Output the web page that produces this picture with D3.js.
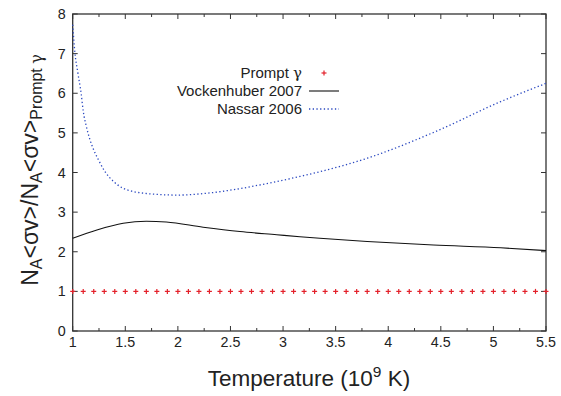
<html><head>
<script src="https://d3js.org/d3.v7.min.js"></script>
<style>
  body { margin: 0; background: #fff; }
  text { font-family: "Liberation Sans", Arial, sans-serif; fill: #222; }
  .greek { font-family: "DejaVu Serif", serif; }
</style>
</head>
<body>
<script>
  // data
  var xTicks = [1, 1.5, 2, 2.5, 3, 3.5, 4, 4.5, 5, 5.5];
  var xMinor = [1.25, 1.75, 2.25, 2.75, 3.25, 3.75, 4.25, 4.75, 5.25];
  var yTicks = [0, 1, 2, 3, 4, 5, 6, 7, 8];

  var promptT = [1.0, 1.1, 1.2, 1.3, 1.4, 1.5, 1.6, 1.7, 1.8, 1.9, 2.0, 2.1, 2.2, 2.3, 2.4, 2.5,
                 2.6, 2.7, 2.8, 2.9, 3.0, 3.1, 3.2, 3.3, 3.4, 3.5, 3.6, 3.7, 3.8, 3.9, 4.0, 4.1,
                 4.2, 4.3, 4.4, 4.5, 4.6, 4.7, 4.8, 4.9, 5.0, 5.1, 5.2, 5.3, 5.4, 5.5];
  var promptV = [1, 1, 1, 1, 1, 1, 1, 1, 1, 1, 1, 1, 1, 1, 1, 1, 1, 1, 1, 1, 1, 1, 1,
                 1, 1, 1, 1, 1, 1, 1, 1, 1, 1, 1, 1, 1, 1, 1, 1, 1, 1, 1, 1, 1, 1, 1];

  var vockT = [1.0, 1.23, 1.48, 1.7, 1.89, 2.24, 2.59, 2.94, 3.16, 3.35, 3.8, 4.43, 5.07, 5.5];
  var vockV = [2.34, 2.55, 2.72, 2.77, 2.75, 2.62, 2.51, 2.43, 2.38, 2.34, 2.26, 2.17, 2.10, 2.03];

  var nassarT = [1.0, 1.02, 1.05, 1.08, 1.1, 1.13, 1.165, 1.2, 1.245, 1.3, 1.39, 1.48, 1.56, 1.7,
                 2.0, 2.25, 2.56, 2.88, 3.16, 3.35, 3.8, 4.43, 5.07, 5.5];
  var nassarV = [7.73, 7.05, 6.5, 6.0, 5.55, 5.16, 4.82, 4.57, 4.32, 4.05, 3.77, 3.60, 3.53, 3.47,
                 3.43, 3.47, 3.58, 3.74, 3.90, 4.02, 4.36, 5.01, 5.79, 6.25];

  let width = 561, height = 396;
  let margin = { top: 14, right: 15, bottom: 65, left: 72.7 };
  let chartWidth = width - margin.left - margin.right;
  let chartHeight = height - margin.top - margin.bottom;

  let svg = d3.select("body").append("svg").attr("width", width).attr("height", height);
  let chart = svg.append("g").attr("transform", "translate(" + margin.left + "," + margin.top + ")");

  let xScale = d3.scaleLinear().domain([1, 5.5]).range([0, chartWidth]);
  let yScale = d3.scaleLinear().domain([0, 8]).range([chartHeight, 0]);

  let axisColor = "#333";

  // ticks (inward, mirrored on top and right)
  xTicks.concat(xMinor).forEach(function(t) {
    let len = xMinor.indexOf(t) >= 0 ? 3 : 5;
    chart.append("line").attr("x1", xScale(t)).attr("x2", xScale(t)).attr("y1", chartHeight).attr("y2", chartHeight - len).attr("stroke", axisColor);
    chart.append("line").attr("x1", xScale(t)).attr("x2", xScale(t)).attr("y1", 0).attr("y2", len).attr("stroke", axisColor);
  });
  yTicks.forEach(function(t) {
    chart.append("line").attr("x1", 0).attr("x2", 5).attr("y1", yScale(t)).attr("y2", yScale(t)).attr("stroke", axisColor);
    chart.append("line").attr("x1", chartWidth).attr("x2", chartWidth - 5).attr("y1", yScale(t)).attr("y2", yScale(t)).attr("stroke", axisColor);
  });

  chart.append("rect").attr("x", 0).attr("y", 0).attr("width", chartWidth).attr("height", chartHeight)
    .attr("fill", "none").attr("stroke", axisColor).attr("stroke-width", 1.3);

  // tick labels
  xTicks.forEach(function(t) {
    chart.append("text").attr("x", xScale(t)).attr("y", chartHeight + 15.5).attr("text-anchor", "middle")
      .attr("font-size", 14.3).text(t);
  });
  yTicks.forEach(function(t) {
    chart.append("text").attr("x", -7).attr("y", yScale(t) + 5).attr("text-anchor", "end")
      .attr("font-size", 14.3).text(t);
  });

  // curves
  let nassar = nassarT.map(function(t, i) { return [t, nassarV[i]]; });
  let vock = vockT.map(function(t, i) { return [t, vockV[i]]; });

  chart.append("path").datum(nassar)
    .attr("d", d3.line().x(d => xScale(d[0])).y(d => yScale(d[1])).curve(d3.curveMonotoneX))
    .attr("fill", "none").attr("stroke", "#2a48c0").attr("stroke-width", 1.3).attr("stroke-dasharray", "1.3,2.4");

  chart.append("path").datum(vock)
    .attr("d", d3.line().x(d => xScale(d[0])).y(d => yScale(d[1])).curve(d3.curveMonotoneX))
    .attr("fill", "none").attr("stroke", "#111").attr("stroke-width", 1.1);

  let plus = function(g, cx, cy) {
    g.append("line").attr("x1", cx - 2.5).attr("x2", cx + 2.5).attr("y1", cy).attr("y2", cy).attr("stroke", "#e3202a").attr("stroke-width", 1.2);
    g.append("line").attr("x1", cx).attr("x2", cx).attr("y1", cy - 2.5).attr("y2", cy + 2.5).attr("stroke", "#e3202a").attr("stroke-width", 1.2);
  };
  promptT.forEach(function(t, i) { plus(chart, xScale(t), yScale(promptV[i])); });

  // legend
  let leg = svg.append("g");
  let lp = leg.append("text").attr("x", 302).attr("y", 77.5).attr("text-anchor", "end").attr("font-size", 15);
  lp.append("tspan").text("Prompt ");
  lp.append("tspan").attr("class", "greek").text("\u03b3");
  plus(leg, 324, 73);
  leg.append("text").attr("x", 302).attr("y", 95.5).attr("text-anchor", "end").attr("font-size", 15).text("Vockenhuber 2007");
  leg.append("line").attr("x1", 309).attr("x2", 339).attr("y1", 91).attr("y2", 91).attr("stroke", "#111").attr("stroke-width", 1.1);
  leg.append("text").attr("x", 302).attr("y", 113.5).attr("text-anchor", "end").attr("font-size", 15).text("Nassar 2006");
  leg.append("line").attr("x1", 309).attr("x2", 339).attr("y1", 109).attr("y2", 109).attr("stroke", "#2a48c0")
    .attr("stroke-width", 1.3).attr("stroke-dasharray", "1.3,2.4");

  // axis titles
  let xt = svg.append("text").attr("x", 309).attr("y", 386).attr("text-anchor", "middle").attr("font-size", 22.5);
  xt.append("tspan").text("Temperature (10");
  xt.append("tspan").attr("dy", -9).attr("font-size", 15.5).text("9");
  xt.append("tspan").attr("dy", 9).text(" K)");

  let yt = svg.append("text").attr("transform", "translate(38,170) rotate(-90)").attr("text-anchor", "middle").attr("font-size", 23);
  yt.append("tspan").text("N");
  yt.append("tspan").attr("dy", 4).attr("font-size", 16).text("A");
  yt.append("tspan").attr("dy", -4).text("<\u03c3v>/N");
  yt.append("tspan").attr("dy", 4).attr("font-size", 16).text("A");
  yt.append("tspan").attr("dy", -4).text("<\u03c3v>");
  yt.append("tspan").attr("dy", 4).attr("font-size", 16).text("Prompt ");
  yt.append("tspan").attr("class", "greek").attr("font-size", 16).text("\u03b3");
</script>
</body>
</html>
